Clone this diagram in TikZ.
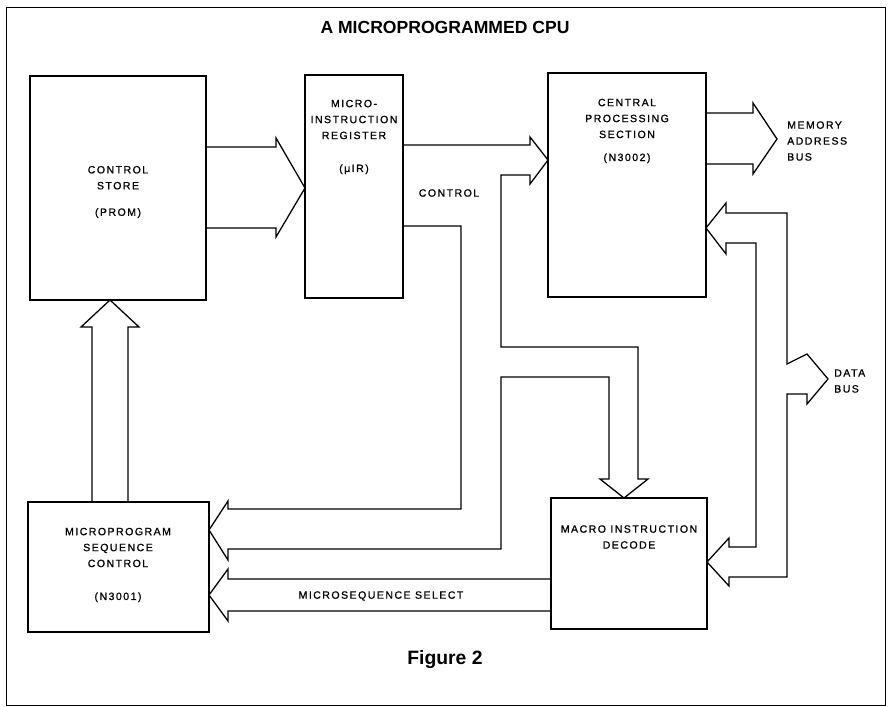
\documentclass[tikz,border=0pt]{standalone}
\usepackage{fontspec}
\setmainfont{Liberation Sans}
\newfontfamily\lblfont[LetterSpace=14,FakeBold=1]{Liberation Sans}

\begin{document}
\begin{tikzpicture}[x=0.3mm,y=-0.3mm,
    block/.style={draw,line width=1.1pt,inner sep=0pt,outer sep=0pt},
    lbl/.style={font=\lblfont\fontsize{9}{13.6}\selectfont,align=center,inner sep=0pt},
    heading/.style={font=\bfseries\fontsize{15}{18}\selectfont,inner sep=0pt},
    bus/.style={draw,line width=1.1pt,line join=miter}]
  \useasboundingbox (0,0) rectangle (888,707);
  \begin{scope}
    \draw[line width=0.8pt] (6,7) rectangle (885,705);

    \node[heading] (ttl) at (445,27) {A MICROPROGRAMMED CPU};
    \node[heading,font=\bfseries\fontsize{16.5}{18}\selectfont] (fig) at (445,660) {Figure 2};

    % blocks
    \node[block,minimum width=52.8mm,minimum height=67.2mm] (cs) at (118,188) {};
    \node[block,minimum width=29.4mm,minimum height=66.9mm] (uir) at (354,186.5) {};
    \node[block,minimum width=47.4mm,minimum height=67.2mm] (cpu) at (627,185) {};
    \node[block,minimum width=54.3mm,minimum height=39mm] (msc) at (118.5,567) {};
    \node[block,minimum width=46.8mm,minimum height=39.3mm] (mid) at (629,563.5) {};

    \node[lbl] (cstxt) at (118,192) {CONTROL\\STORE\\[9pt](PROM)};
    \node[lbl] (uirtxt) at (354,137) {MICRO-\\INSTRUCTION\\REGISTER\\[14.5pt](μIR)};
    \node[lbl] (cputxt) at (627,131) {CENTRAL\\PROCESSING\\SECTION\\[6pt](N3002)};
    \node[lbl] (msctxt) at (118,565) {MICROPROGRAM\\SEQUENCE\\CONTROL\\[14.5pt](N3001)};
    \node[lbl] (midtxt) at (629,537) {MACRO INSTRUCTION\\DECODE};

    \node[lbl] (ctl) at (449,193) {CONTROL};
    \node[lbl] (msel) at (381,596) {MICROSEQUENCE SELECT};
    \node[lbl,anchor=west,align=left] (mab) at (787,141) {MEMORY\\ADDRESS\\BUS};
    \node[lbl,anchor=west,align=left] (db) at (834,381) {DATA\\BUS};

    \coordinate (mabtip) at (777,139);
    \coordinate (dbtip) at (828,379);

    % control store -> micro-instruction register
    \path[bus] (cs.east |- 0,147) -- (276,147) -- (276,138) -- (uir.west |- 0,188)
      -- (276,237) -- (276,228) -- (cs.east |- 0,228);

    % control bus
    \path[bus] (uir.east |- 0,145) -- (530,145) -- (530,137) -- (cpu.west |- 0,160)
      -- (530,184) -- (530,175) -- (501,175) -- (501,347) -- (638,347) -- (638,479)
      -- (648,479) -- (mid.north -| 624,0) -- (600,479) -- (609,479) -- (609,377)
      -- (501,377) -- (501,549) -- (228,549) -- (228,560) -- (msc.east |- 0,530)
      -- (228,501) -- (228,509) -- (461,509) -- (461,226) -- (uir.east |- 0,226);

    % microsequence select
    \path[bus] (mid.west |- 0,579) -- (228,579) -- (228,569) -- (msc.east |- 0,595)
      -- (228,621) -- (228,611) -- (mid.west |- 0,611);

    % sequencer -> control store
    \path[bus] (msc.north -| 92,0) -- (92,327) -- (81,327) -- (cs.south -| 110,0)
      -- (139,327) -- (128,327) -- (msc.north -| 128,0);

    % memory address bus
    \path[bus] (cpu.east |- 0,113) -- (753,113) -- (753,103) -- (mabtip)
      -- (753,174) -- (753,164) -- (cpu.east |- 0,164);

    % data bus
    \path[bus] (787,364) -- (787,213) -- (726,213) -- (726,203) -- (cpu.east |- 0,228)
      -- (726,254) -- (726,243) -- (756,243) -- (756,547) -- (729,547) -- (729,538)
      -- (mid.east |- 0,562) -- (729,586) -- (729,577) -- (787,577) -- (787,394)
      -- (807,394) -- (807,404) -- (dbtip) -- (807,354) -- cycle;
  \end{scope}
\end{tikzpicture}
\end{document}
